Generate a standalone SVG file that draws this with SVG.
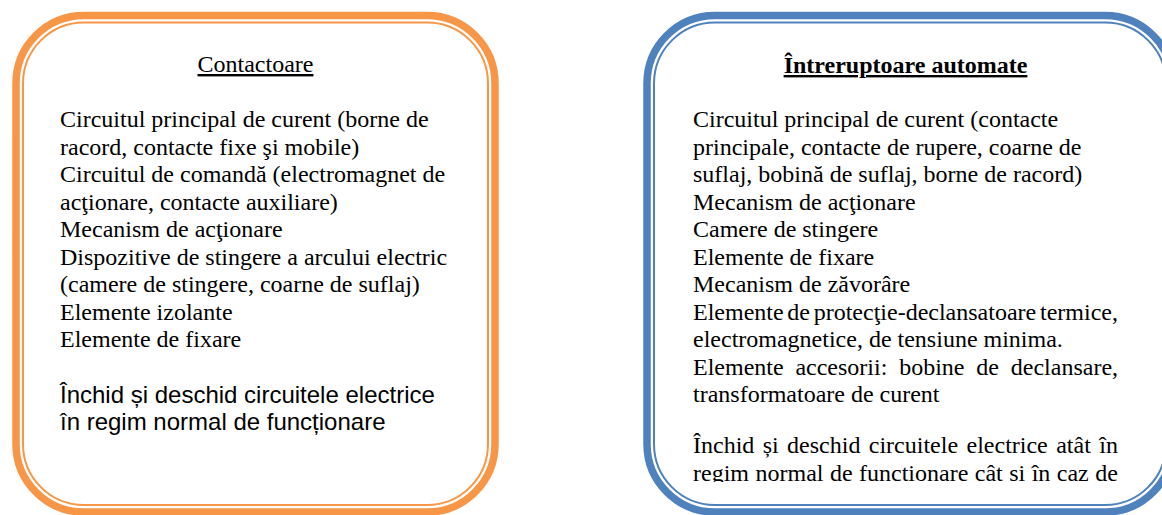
<svg xmlns="http://www.w3.org/2000/svg" width="1162" height="515" viewBox="0 0 1162 515">
<style>
.bg{fill:#ffffff}
.outer{fill:#ffffff;stroke-width:7.5}
.inner{fill:none;stroke-width:2}
.orange{stroke:#F79646}
.blue{stroke:#4F81BD}
.serif{font-family:"Liberation Serif","Times New Roman",serif;font-size:24px;fill:#000000}
.sans{font-family:"Liberation Sans",Arial,sans-serif;font-size:24px;fill:#000000}
.title{text-anchor:middle;text-decoration:underline}
.bold{font-weight:bold}
</style>
<defs>
<clipPath id="clipRight"><rect x="640" y="0" width="522" height="482"/></clipPath>
</defs>
<rect class="bg" x="0" y="0" width="1162" height="515"/>
<g id="connectors"></g>
<g id="node-contactoare">
<rect class="outer orange" x="16" y="15.5" width="479" height="496.5" rx="68" ry="68"/>
<rect class="inner orange" x="23" y="22.5" width="465" height="482.5" rx="61" ry="61"/>
<text class="serif title" x="255.5" y="72">Contactoare</text>
<text class="serif" x="60" y="127">Circuitul principal de curent (borne de</text>
<text class="serif" x="60" y="154.5">racord, contacte fixe şi mobile)</text>
<text class="serif" x="60" y="182">Circuitul de comandă (electromagnet de</text>
<text class="serif" x="60" y="209.5">acţionare, contacte auxiliare)</text>
<text class="serif" x="60" y="237">Mecanism de acţionare</text>
<text class="serif" x="60" y="264.5">Dispozitive de stingere a arcului electric</text>
<text class="serif" x="60" y="292">(camere de stingere, coarne de suflaj)</text>
<text class="serif" x="60" y="319.5">Elemente izolante</text>
<text class="serif" x="60" y="347">Elemente de fixare</text>
<text class="sans" x="60" y="403">Închid și deschid circuitele electrice</text>
<text class="sans" x="60" y="430">în regim normal de funcționare</text>
</g>
<g id="node-intreruptoare">
<rect class="outer blue" x="647" y="15.5" width="526" height="496.5" rx="68" ry="68"/>
<rect class="inner blue" x="654" y="22.5" width="512" height="482.5" rx="61" ry="61"/>
<g clip-path="url(#clipRight)">
<text class="serif title bold" x="905.5" y="73">Întreruptoare automate</text>
<text class="serif" x="693" y="127">Circuitul principal de curent (contacte</text>
<text class="serif" x="693" y="154.5">principale, contacte de rupere, coarne de</text>
<text class="serif" x="693" y="182">suflaj, bobină de suflaj, borne de racord)</text>
<text class="serif" x="693" y="209.5">Mecanism de acţionare</text>
<text class="serif" x="693" y="237">Camere de stingere</text>
<text class="serif" x="693" y="264.5">Elemente de fixare</text>
<text class="serif" x="693" y="292">Mecanism de zăvorâre</text>
<text class="serif" y="319.5"><tspan x="693">Elemente</tspan> <tspan x="787.3">de</tspan> <tspan x="813.7">protecţie-declansatoare</tspan> <tspan x="1040">termice,</tspan></text>
<text class="serif" x="693" y="347">electromagnetice, de tensiune minima.</text>
<text class="serif" y="374.5"><tspan x="693">Elemente</tspan> <tspan x="795.4">accesorii:</tspan> <tspan x="899.2">bobine</tspan> <tspan x="976.3">de</tspan> <tspan x="1010.8">declansare,</tspan></text>
<text class="serif" x="693" y="402">transformatoare de curent</text>
<text class="serif" y="453"><tspan x="693">Închid</tspan> <tspan x="762.7">și</tspan> <tspan x="787.1">deschid</tspan> <tspan x="868.8">circuitele</tspan> <tspan x="966.5">electrice</tspan> <tspan x="1056.2">atât</tspan> <tspan x="1099.3">în</tspan></text>
<text class="serif" y="480.5"><tspan x="693">regim</tspan> <tspan x="755.5">normal</tspan> <tspan x="829.9">de</tspan> <tspan x="859">functionare</tspan> <tspan x="974.8">cât</tspan> <tspan x="1009.2">si</tspan> <tspan x="1031.7">în</tspan> <tspan x="1056.8">caz</tspan> <tspan x="1095.3">de</tspan></text>
</g>
</g>
</svg>
